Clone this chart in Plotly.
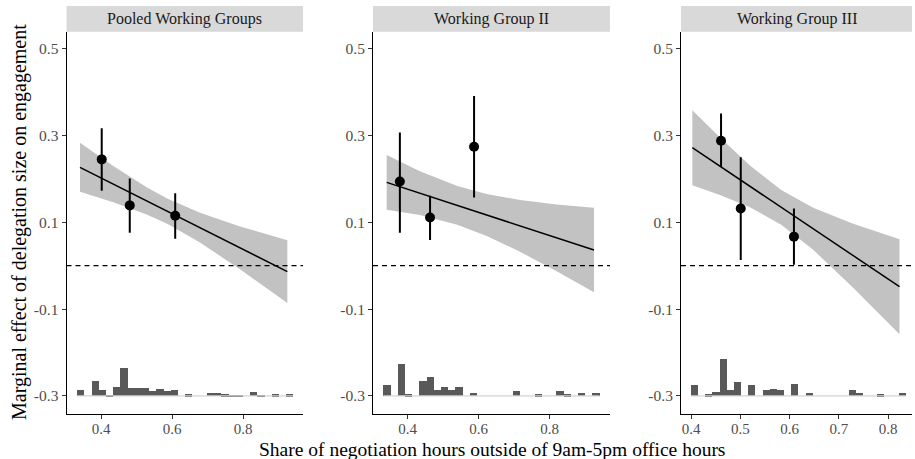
import plotly.graph_objects as go

# ---------------- data ----------------
panel_titles = ["Pooled Working Groups", "Working Group II", "Working Group III"]

# binned estimates (points with 95% CI)
pool_x = [0.402, 0.481, 0.609]
pool_y = [0.245, 0.139, 0.115]
pool_hi = [0.317, 0.201, 0.167]
pool_lo = [0.173, 0.076, 0.062]

wg2_x = [0.378, 0.463, 0.587]
wg2_y = [0.194, 0.111, 0.274]
wg2_hi = [0.307, 0.161, 0.391]
wg2_lo = [0.076, 0.059, 0.157]

wg3_x = [0.461, 0.501, 0.609]
wg3_y = [0.288, 0.132, 0.067]
wg3_hi = [0.351, 0.250, 0.132]
wg3_lo = [0.228, 0.013, 0.002]

# linear fit lines
pool_fit_x = [0.3408, 0.9249]
pool_fit_y = [0.2267, -0.0137]
wg2_fit_x = [0.3408, 0.9248]
wg2_fit_y = [0.1921, 0.0362]
wg3_fit_x = [0.4027, 0.8233]
wg3_fit_y = [0.2720, -0.0483]

# confidence bands of the linear fit
pool_band_x = [0.3408, 0.4347, 0.5286, 0.5878, 0.6789, 0.7915, 0.9249]
pool_band_hi = [0.2831, 0.2298, 0.1808, 0.1542, 0.1218, 0.0906, 0.0585]
pool_band_lo = [0.1702, 0.1462, 0.1180, 0.0959, 0.0533, -0.0083, -0.0859]

wg2_band_x = [0.3408, 0.4346, 0.5398, 0.6224, 0.7163, 0.8196, 0.9248]
wg2_band_hi = [0.2551, 0.2174, 0.1835, 0.1651, 0.1514, 0.1412, 0.1333]
wg2_band_lo = [0.1291, 0.1167, 0.0944, 0.0687, 0.0322, -0.0127, -0.0610]

wg3_band_x = [0.4027, 0.4588, 0.5197, 0.5832, 0.6481, 0.7293, 0.8233]
wg3_band_hi = [0.3584, 0.2955, 0.2311, 0.1744, 0.1333, 0.0969, 0.0611]
wg3_band_lo = [0.1856, 0.1631, 0.1346, 0.0945, 0.0367, -0.0505, -0.1578]

# histogram of the moderator (30 bins each)
pool_hist_start, pool_hist_width = 0.3315, 0.0203
pool_hist = [6, 0, 16, 7, 1, 10, 30, 9, 9, 9, 5, 8, 5, 7, 0, 2, 0, 0, 3, 3, 2, 1, 1, 0, 4, 1, 0, 2, 0, 2]
wg2_hist_start, wg2_hist_width = 0.3315, 0.0203
wg2_hist = [12, 0, 34, 2, 0, 16, 20, 6, 10, 6, 10, 0, 3, 0, 0, 0, 0, 0, 5, 0, 0, 2, 0, 0, 5, 2, 0, 3, 0, 3]
wg3_hist_start, wg3_hist_width = 0.400, 0.01454
wg3_hist = [12, 0, 2, 4, 39, 6, 15, 0, 12, 0, 7, 8, 6, 0, 13, 0, 3, 0, 0, 0, 0, 0, 6, 3, 0, 0, 2, 0, 0, 3]
hist_base = -0.3
hist_scale = 0.0022

y_ticks = [-0.3, -0.1, 0.1, 0.3, 0.5]
y_ticklabels = ["-0.3", "-0.1", "0.1", "0.3", "0.5"]
x_ticks_12 = [0.4, 0.6, 0.8]
x_ticks_3 = [0.4, 0.5, 0.6, 0.7, 0.8]

y_title = "Marginal effect of delegation size on engagement"
x_title = "Share of negotiation hours outside of 9am-5pm office hours"

# ---------------- figure ----------------
W, H = 915, 459
FONT = "Liberation Serif"

panels = [
    dict(px=pool_x, py=pool_y, hi=pool_hi, lo=pool_lo, fx=pool_fit_x, fy=pool_fit_y,
         bx=pool_band_x, bhi=pool_band_hi, blo=pool_band_lo,
         hs=pool_hist_start, hw=pool_hist_width, h=pool_hist,
         xdom=[66.5, 303], xr=[0.3028, 0.9690], xt=x_ticks_12),
    dict(px=wg2_x, py=wg2_y, hi=wg2_hi, lo=wg2_lo, fx=wg2_fit_x, fy=wg2_fit_y,
         bx=wg2_band_x, bhi=wg2_band_hi, blo=wg2_band_lo,
         hs=wg2_hist_start, hw=wg2_hist_width, h=wg2_hist,
         xdom=[373, 610], xr=[0.3023, 0.9699], xt=x_ticks_12),
    dict(px=wg3_x, py=wg3_y, hi=wg3_hi, lo=wg3_lo, fx=wg3_fit_x, fy=wg3_fit_y,
         bx=wg3_band_x, bhi=wg3_band_hi, blo=wg3_band_lo,
         hs=wg3_hist_start, hw=wg3_hist_width, h=wg3_hist,
         xdom=[681, 912], xr=[0.3797, 0.8487], xt=x_ticks_3),
]

plot_top_px, plot_bot_px = 31.7, 413.5
ydom = [(H - plot_bot_px) / H, (H - plot_top_px) / H]
yr = [-0.3405, 0.5392]
strip_top_px = 6

fig = go.Figure()
layout = dict(
    width=W, height=H,
    margin=dict(l=0, r=0, t=0, b=0),
    paper_bgcolor="white", plot_bgcolor="white",
    showlegend=False,
    font=dict(family=FONT, color="#4d4d4d", size=15),
    shapes=[], annotations=[],
)

for i, p in enumerate(panels):
    n = "" if i == 0 else str(i + 1)
    xa, ya = "x" + n, "y" + n

    # confidence band
    fig.add_trace(go.Scatter(
        x=p["bx"] + p["bx"][::-1], y=p["bhi"] + p["blo"][::-1],
        fill="toself", fillcolor="#c2c2c2", line=dict(width=0),
        mode="lines", hoverinfo="skip", xaxis=xa, yaxis=ya))
    # fit line
    fig.add_trace(go.Scatter(
        x=p["fx"], y=p["fy"], mode="lines",
        line=dict(color="black", width=1.5), xaxis=xa, yaxis=ya))
    # histogram baseline
    nb = len(p["h"])
    edges = [p["hs"], p["hs"] + p["hw"] * nb]
    fig.add_trace(go.Scatter(
        x=edges, y=[hist_base, hist_base], mode="lines",
        line=dict(color="#d4d4d4", width=1.2), xaxis=xa, yaxis=ya))
    # histogram bars
    centers = [p["hs"] + p["hw"] * (k + 0.5) for k in range(nb)]
    fig.add_trace(go.Bar(
        x=centers, y=[c * hist_scale for c in p["h"]], base=hist_base,
        width=p["hw"], marker=dict(color="#595959", line=dict(width=0)),
        xaxis=xa, yaxis=ya))
    # points with error bars
    fig.add_trace(go.Scatter(
        x=p["px"], y=p["py"], mode="markers",
        marker=dict(color="black", size=10),
        error_y=dict(type="data", symmetric=False,
                     array=[h - y for h, y in zip(p["hi"], p["py"])],
                     arrayminus=[y - l for l, y in zip(p["lo"], p["py"])],
                     width=0, thickness=2, color="black"),
        xaxis=xa, yaxis=ya))

    layout["xaxis" + n] = dict(
        domain=[p["xdom"][0] / W, p["xdom"][1] / W], range=p["xr"],
        anchor=ya, showgrid=False, zeroline=False,
        showline=True, linecolor="black", linewidth=1,
        ticks="outside", ticklen=4, tickcolor="#333333", tickwidth=1,
        tickvals=p["xt"], ticktext=[f"{v:.1f}" for v in p["xt"]],
        tickfont=dict(family=FONT, size=15, color="#4d4d4d"),
        ticklabelstandoff=-3,
    )
    layout["yaxis" + n] = dict(
        domain=ydom, range=yr, anchor=xa, showgrid=False, zeroline=False,
        showline=True, linecolor="black", linewidth=1,
        ticks="outside", ticklen=4, tickcolor="#333333", tickwidth=1,
        tickvals=y_ticks, ticktext=y_ticklabels,
        tickfont=dict(family=FONT, size=15.5, color="#4d4d4d"),
    )
    # dashed zero line
    layout["shapes"].append(dict(
        type="line", xref=xa + " domain", yref=ya, x0=0, x1=1, y0=0, y1=0,
        line=dict(color="black", width=1.2, dash="5px,4px"), layer="above"))
    # strip
    layout["shapes"].append(dict(
        type="rect", xref=xa + " domain", yref="paper",
        x0=0, x1=1, y0=ydom[1], y1=(H - strip_top_px) / H,
        fillcolor="#d9d9d9", line=dict(width=0)))
    layout["annotations"].append(dict(
        text=panel_titles[i], xref=xa + " domain", yref="paper",
        x=0.5, y=(ydom[1] + (H - strip_top_px) / H) / 2,
        showarrow=False, xanchor="center", yanchor="middle",
        font=dict(family=FONT, size=16, color="#1a1a1a")))

# axis titles
layout["annotations"].append(dict(
    text=y_title, xref="paper", yref="paper", x=20 / W, y=(H - 222) / H,
    textangle=-90, showarrow=False, xanchor="center", yanchor="middle",
    font=dict(family=FONT, size=20, color="black")))
layout["annotations"].append(dict(
    text=x_title, xref="paper", yref="paper", x=492 / W, y=(H - 449) / H,
    showarrow=False, xanchor="center", yanchor="middle",
    font=dict(family=FONT, size=19.5, color="black")))

layout["bargap"] = 0
fig.update_layout(**layout)
fig.write_html("out.html", config={"displayModeBar": False},
               post_script="document.body.style.margin='0';document.body.style.padding='0';")
